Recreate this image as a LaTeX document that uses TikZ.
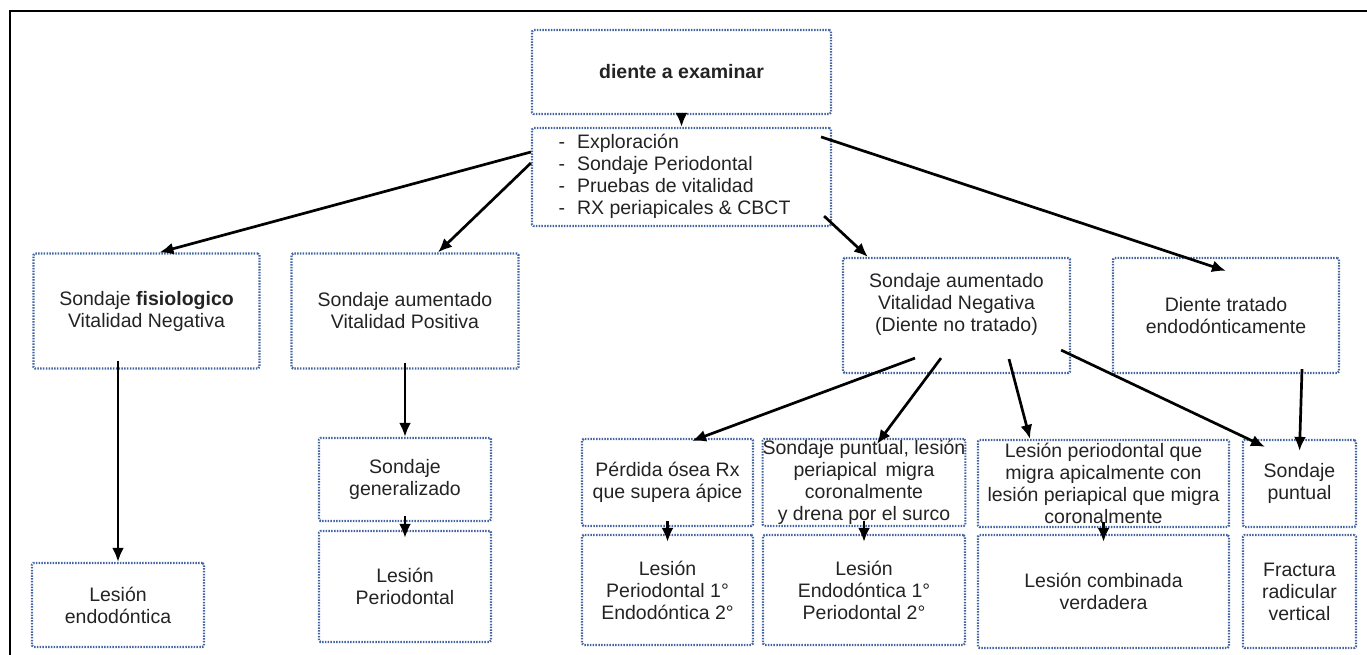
\documentclass[tikz,border=0pt]{standalone}
\usepackage{fontspec}
\setsansfont{Liberation Sans}
\usetikzlibrary{arrows.meta}
\definecolor{dotblue}{RGB}{68,100,160}
\definecolor{txtgray}{RGB}{35,35,35}
\tikzset{
	box/.style={draw=dotblue, line width=2.2pt, dash pattern=on 1.5pt off 1.3pt,
		rounded corners=1.5pt, align=center, text=txtgray, inner sep=0pt,
		font=\sffamily\fontsize{19.5}{22}\selectfont},
	link/.style={->, line width=2.7pt}
}
\begin{document}
\begin{tikzpicture}[x=1pt, y=-1pt, >={Latex[length=14pt,width=12pt]}]
	\useasboundingbox (0,0) rectangle (1367,655);
	\draw[line width=1.6pt] (10,655) -- (10,11) -- (1367,11);
	% first two boxes
	\node[box, minimum width=299pt, minimum height=84pt] (top) at (681.5,72) {\bfseries diente a examinar};
	\node[box, minimum width=299pt, minimum height=98pt] (exam) at (681.5,177)
		{\begin{tabular}{@{}l@{\hspace{12pt}}l@{}}
			- & Exploración\\
			- & Sondaje Periodontal\\
			- & Pruebas de vitalidad\\
			- & RX periapicales \& CBCT
		\end{tabular}\rule{14pt}{0pt}};
	% second row
	\node[box, minimum width=226pt, minimum height=115pt] (fis) at (146.5,311) {Sondaje \textbf{fisiologico}\\Vitalidad Negativa};
	\node[box, minimum width=227pt, minimum height=115pt] (pos) at (405,311) {Sondaje aumentado\\Vitalidad Positiva};
	\node[box, minimum width=227pt, minimum height=115pt] (neg) at (956.5,315.5) {Sondaje aumentado\\Vitalidad Negativa\\(Diente no tratado)\\[4pt]};
	\node[box, minimum width=226pt, minimum height=115pt] (trat) at (1226,315.5) {Diente tratado\\endodónticamente};
	% third row
	\node[box, minimum width=172pt, minimum height=83pt] (gen) at (405,479.5) {Sondaje\\generalizado};
	\node[box, minimum width=171pt, minimum height=87pt] (perd) at (667.5,482.5) {Pérdida ósea Rx\\que supera ápice};
	\node[box, minimum width=202pt, minimum height=87pt] (punt) at (864,482.5) {Sondaje puntual, lesión\\periapical\, migra\\coronalmente\\y drena por el surco};
	\node[box, minimum width=251pt, minimum height=87pt] (migra) at (1103.5,483.5) {Lesión periodontal que\\migra apicalmente con\\lesión periapical que migra\\coronalmente};
	\node[box, minimum width=113pt, minimum height=87pt] (sp) at (1299.5,483.5) {Sondaje\\puntual};
	% last row
	\node[box, minimum width=172pt, minimum height=84pt] (endo) at (118,605) {Lesión\\endodóntica};
	\node[box, minimum width=172pt, minimum height=111pt] (perio) at (405,586.5) {Lesión\\Periodontal};
	\node[box, minimum width=171pt, minimum height=110pt] (pe) at (667.5,590) {Lesión\\Periodontal 1°\\Endodóntica 2°};
	\node[box, minimum width=202pt, minimum height=110pt] (ep) at (864,590) {Lesión\\Endodóntica 1°\\Periodontal 2°};
	\node[box, minimum width=251pt, minimum height=113pt] (comb) at (1103.5,591.5) {Lesión combinada\\verdadera};
	\node[box, minimum width=113pt, minimum height=113pt] (frac) at (1299.5,591.5) {Fractura\\radicular\\vertical};
	% arrows
	\draw[link] (top) -- (exam);
	\draw[link] ([yshift=25pt]exam.west) -- ([xshift=13pt]fis.north);
	\draw[link] ([yshift=14pt]exam.west) -- ([xshift=33pt]pos.north);
	\draw[link] ([shift={(-8pt,11pt)}]exam.south east) -- ([xshift=26pt]neg.north west);
	\draw[link] ([shift={(-11pt,-10pt)}]exam.north east) -- ([yshift=-14pt]trat.north);
	\draw[link] ([shift={(-28.5pt,9pt)}]fis.south) -- (endo.north);
	\draw[link] ([yshift=7pt]pos.south) -- (gen.north);
	\draw[link] ([shift={(-41.5pt,16pt)}]neg.south) -- ([shift={(24.5pt,-3pt)}]perd.north);
	\draw[link] ([shift={(-15.5pt,16pt)}]neg.south) -- ([shift={(13pt,-6pt)}]punt.north);
	\draw[link] ([shift={(52.5pt,15pt)}]neg.south) -- ([xshift=-73.5pt]migra.north);
	\draw[link] ([shift={(-10pt,24pt)}]neg.south east) -- ([shift={(-34.5pt,-8pt)}]sp.north);
	\draw[link] ([shift={(76pt,5pt)}]trat.south) -- ([yshift=-12pt]sp.north);
	\foreach \a/\b in {gen/perio, perd/pe, punt/ep, migra/comb}
		\draw[link] ([yshift=6pt]\a.south) -- ([yshift=-8pt]\b.north);
\end{tikzpicture}
\end{document}
